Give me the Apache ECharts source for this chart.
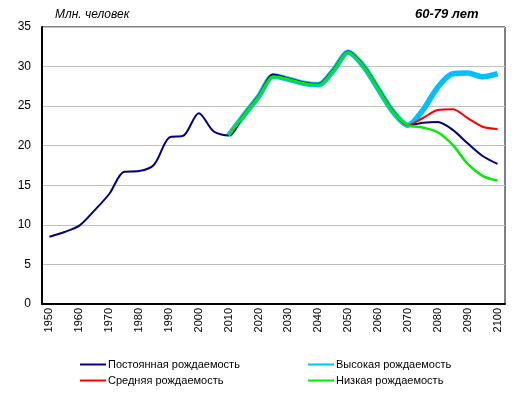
<!DOCTYPE html>
<html><head><meta charset="utf-8">
<script src="https://cdn.jsdelivr.net/npm/echarts@6/dist/echarts.min.js"></script>
<style>html,body{margin:0;padding:0;background:#fff}#c{width:520px;height:395px}</style>
</head><body><div id="c"></div>
<script>
const years = [];
for (let y = 1950; y <= 2100; y += 5) years.push(String(y));
const constant = [8.5,9.1,9.9,11.8,13.9,16.7,16.8,17.6,21.0,21.3,24.1,21.8,21.3,23.9,26.3,29.0,28.5,28.0,27.8,29.6,31.9,30.2,27.3,24.4,22.6,22.9,23.0,22.0,20.3,18.7,17.7];
const high =     [null,null,null,null,null,null,null,null,null,null,null,null,21.3,23.8,26.2,28.8,28.4,27.9,27.7,29.5,31.8,30.1,27.2,24.3,22.6,24.5,27.4,29.1,29.2,28.7,29.1];
const medium =   [null,null,null,null,null,null,null,null,null,null,null,null,21.3,23.8,26.2,28.8,28.4,27.9,27.7,29.5,31.8,30.1,27.2,24.3,22.6,23.5,24.5,24.6,23.5,22.4,22.1];
const low =      [null,null,null,null,null,null,null,null,null,null,null,null,21.3,23.8,26.2,28.7,28.4,27.9,27.7,29.5,31.8,30.1,27.2,24.3,22.6,22.3,21.7,20.1,17.7,16.2,15.6];
const names = ['Постоянная рождаемость','Высокая рождаемость','Средняя рождаемость','Низкая рождаемость'];

const chart = echarts.init(document.getElementById('c'), null, {renderer:'canvas'});
const font = 'Liberation Sans, Arial, sans-serif';
const legendCommon = {orient:'vertical',top:354,itemWidth:26,itemHeight:10,itemGap:5,
  itemStyle:{opacity:0},
  textStyle:{fontFamily:font,fontSize:11,color:'#000',padding:[0,0,0,-3]}};
chart.setOption({
  animation:false,
  title:[
    {text:'Млн. человек', left:50, top:4, textStyle:{fontFamily:font,fontSize:12,fontStyle:'italic',fontWeight:'normal',color:'#000'}},
    {text:'60-79 лет', left:410, top:3, textStyle:{fontFamily:font,fontSize:13,fontStyle:'italic',fontWeight:'bold',color:'#000'}}
  ],
  grid:{left:42,right:15,top:27,bottom:91,show:true,borderColor:'#000',borderWidth:1,backgroundColor:'#fff'},
  legend:[
    Object.assign({left:74,data:[names[0],names[2]]}, legendCommon),
    Object.assign({left:302,data:[names[1],names[3]]}, legendCommon)
  ],
  xAxis:{type:'category',data:years,boundaryGap:true,
    axisLine:{lineStyle:{color:'#000',width:2}},axisTick:{show:false},
    axisLabel:{interval:1,rotate:90,fontFamily:font,fontSize:11,color:'#000',margin:4}},
  yAxis:{type:'value',min:0,max:35,interval:5,
    axisLine:{show:true,lineStyle:{color:'#000',width:2}},axisTick:{show:false},
    splitLine:{lineStyle:{color:'#c0c0c0',width:1}},
    axisLabel:{fontFamily:font,fontSize:12,color:'#000',margin:11}},
  series:[
    {name:names[1],type:'line',data:high,smooth:0.3,symbol:'none',lineStyle:{color:'#00c0ff',width:5.5},itemStyle:{color:'#00c0ff'},z:2},
    {name:names[0],type:'line',data:constant,smooth:0.3,symbol:'none',lineStyle:{color:'#000080',width:2},itemStyle:{color:'#000080'},z:3},
    {name:names[2],type:'line',data:medium,smooth:0.3,symbol:'none',lineStyle:{color:'#ff0000',width:2},itemStyle:{color:'#ff0000'},z:4},
    {name:names[3],type:'line',data:low,smooth:0.3,symbol:'none',lineStyle:{color:'#00ee00',width:2.5},itemStyle:{color:'#00ee00'},z:5}
  ]
});
</script></body></html>
